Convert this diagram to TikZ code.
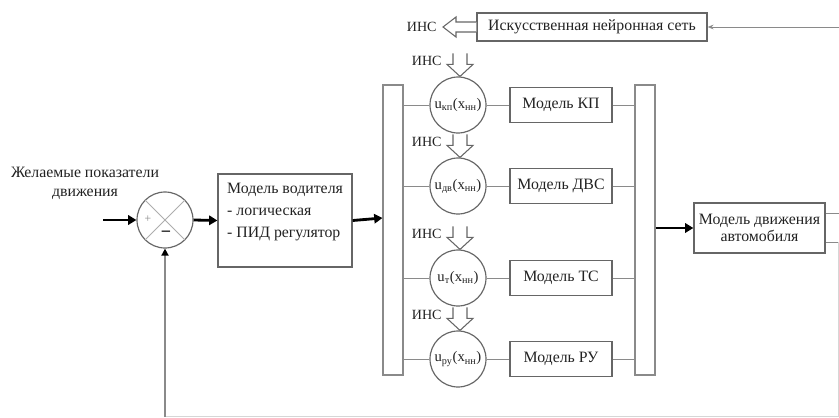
\documentclass[tikz,border=0pt]{standalone}
\usepackage{fontspec}
\setmainfont{Liberation Serif}
\usetikzlibrary{arrows.meta,calc}
\definecolor{lgray}{HTML}{8A8A8A}
\definecolor{bgray}{HTML}{666666}
\definecolor{tcol}{HTML}{222222}
\begin{document}
\begin{tikzpicture}[x=0.03cm,y=-0.03cm,
  txt/.style={text=tcol,font=\fontsize{13.5}{16}\selectfont},
  box/.style={draw=bgray,line width=1.1pt,inner sep=2pt,txt,align=center},
  bar/.style={draw=lgray,line width=1pt,minimum width=0.6cm,minimum height=8.7cm,inner sep=0pt},
  circ/.style={circle,draw=bgray,line width=1pt,minimum size=1.68cm,inner sep=0pt,text=tcol,font=\fontsize{12.5}{14}\selectfont},
  thin/.style={draw=lgray,line width=0.8pt},
  thick/.style={draw=black,line width=2.4pt,-{Triangle[length=7pt,width=8pt]}},
  hollow/.style={draw=bgray,line width=0.9pt,fill=white,line join=miter},
  ins/.style={text=tcol,font=\fontsize{12}{13}\selectfont,inner sep=1pt}]
\useasboundingbox (0,0) rectangle (839,417);

% summing junction
\node[circle,draw=bgray,line width=1pt,minimum size=1.68cm,inner sep=0pt] (sum) at (165,220) {};
\draw[draw=lgray!70,line width=0.8pt] (sum.north west) -- (sum.south east) (sum.north east) -- (sum.south west);
\node[text=lgray,font=\fontsize{10}{12}\selectfont] (plus) at (148,219) {+};
\node[font=\fontsize{14}{14}\selectfont\bfseries] (minus) at (166,233) {–};
\node[txt,align=center] (want) at (85,183) {Желаемые показатели\\движения};
\coordinate (in) at (103,220);
\draw[thick] (in) -- (sum.west);

% driver model
\node[box,minimum width=4.02cm,minimum height=2.79cm] (drv) at (285,220.5) {};
\node[txt,align=left,font=\fontsize{13.5}{18.8}\selectfont,anchor=north west,inner sep=0pt] (drvt) at (227,183)
  {Модель водителя\\- логическая\\- ПИД регулятор};
\draw[thick] (sum.east) -- (drv.west);

% bars
\node[bar] (lbar) at (393,230) {};
\node[bar] (rbar) at (645,230) {};
\draw[thick] (drv.east) -- (lbar.west |- 0,218);

% channels
\foreach \i/\yy/\sub/\name in {1/105/кп/Модель КП, 2/186/дв/Модель ДВС, 3/278/т/Модель ТС, 4/359/ру/Модель РУ}{
  \node[circ] (c\i) at (458,\yy) {u\textsubscript{\sub}(x\textsubscript{нн})};
  \node[box,minimum width=3.06cm,minimum height=1.05cm] (m\i) at (561,\yy) {\name};
  \draw[thin] (lbar.east |- c\i) -- (c\i.west);
  \draw[thin] (c\i.east) -- (m\i.west);
  \draw[thin] (m\i.east) -- (rbar.west |- m\i);
  \coordinate (t\i) at ($(c\i.north)+(2,0)$);
  \draw[hollow] ($(t\i)+(-7,-23)$) -- ($(t\i)+(-7,-12)$) -- ($(t\i)+(-13,-12)$) -- (t\i) -- ($(t\i)+(13,-12)$) -- ($(t\i)+(7,-12)$) -- ($(t\i)+(7,-23)$);
  \node[ins,anchor=east] (l\i) at ($(t\i)+(-17,-16)$) {ИНС};
}

% ANN box
\node[box,minimum width=6.9cm,minimum height=0.84cm] (ann) at (592,27) {Искусственная нейронная сеть};
\coordinate (at) at (443,27);
\draw[hollow] (ann.west |- 0,22) -- (456,22) -- (456,17) -- (at) -- (456,37) -- (456,32) -- (ann.west |- 0,32);
\node[ins,anchor=east] (lann) at (438,27) {ИНС};
\coordinate (annin) at (839,27);
\draw[thin,-{Stealth[length=5pt,width=4pt]}] (annin) -- (ann.east);

% car model
\node[box,minimum width=3.93cm,minimum height=1.5cm,inner sep=1pt] (car) at (759.5,228) {Модель движения\\[-2pt] автомобиля};
\draw[thick] (rbar.east |- car) -- (car.west);
\coordinate (o1) at (839,213);
\coordinate (o2) at (838,242);
\coordinate (b1) at (838,416.5);
\coordinate (b2) at (165,416.5);
\draw[thin] (car.east |- o1) -- (o1);
\draw[thin] (car.east |- o2) -- (o2);
\draw[draw=lgray!35,line width=0.8pt] (o2) -- (b1) -- (b2);
\draw[draw=lgray,line width=1.4pt,-{Triangle[length=6pt,width=6pt,color=black]}] (b2) -- (sum.south);
\end{tikzpicture}
\end{document}
